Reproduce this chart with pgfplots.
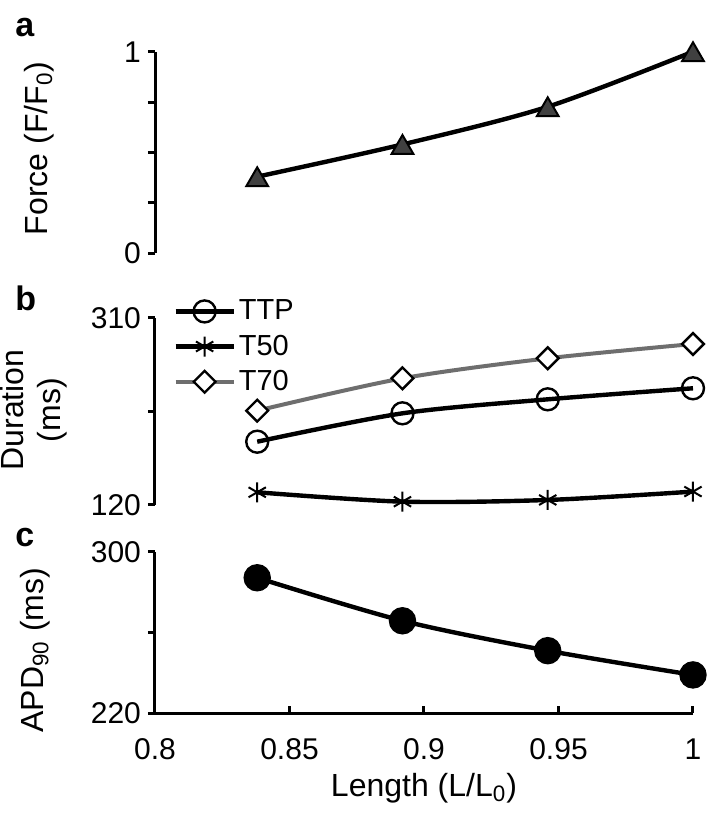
\documentclass[border=0pt]{standalone}
\usepackage{fontspec}
\setmainfont{Liberation Sans}
\usepackage{pgfplots}
\pgfplotsset{compat=1.18}
\definecolor{tri}{RGB}{64,64,64}
\definecolor{t70}{RGB}{110,110,110}
\begin{document}
\begin{tikzpicture}[font=\fontsize{16}{18.5}\selectfont]
\useasboundingbox (0,0) rectangle (353.5pt,407.5pt);
\pgfplotsset{
  base/.style={
    scale only axis, width=269pt, xmin=0.8, xmax=1,
    enlargelimits=false, clip=false,
    axis line style={line width=1.5pt, black},
    tick style={line width=1.5pt, black},
    major tick length=3.5pt,
    /pgf/number format/assume math mode=true,
    every y tick label/.append style={font=\fontsize{15}{17}\selectfont},
    every x tick label/.append style={font=\fontsize{15}{17}\selectfont},
    every axis label/.append style={font=\fontsize{16}{18.5}\selectfont},
  }
}
% panel a
\begin{axis}[base, at={(77.5pt,280.85pt)}, anchor=south west, height=100.8pt,
  ymin=0, ymax=1, axis x line=none, axis y line*=left, ytick align=outside,
  ytick={0,0.25,0.5,0.75,1}, yticklabels={0,,,,1},
  ylabel={Force (F/F\textsubscript{0})},
  ylabel style={at={(axis description cs:-0.2007,0.52)}, anchor=base}]
\addplot[line width=2.2pt, smooth, mark=triangle*, mark size=6.3pt,
  mark options={fill=tri, draw=black, line width=1pt, yshift=-1.6pt}]
  coordinates {(0.838,0.38)(0.892,0.54)(0.946,0.727)(1,1)};
\end{axis}
% panel b
\begin{axis}[base, at={(77.5pt,155pt)}, anchor=south west, height=93.65pt,
  ymin=120, ymax=310, axis x line=none, axis y line*=left, ytick align=outside,
  ytick={120,215,310}, yticklabels={120,,310},
  ylabel={Duration\\(ms)},
  ylabel style={at={(axis description cs:-0.225,0.507)}, anchor=center, align=center},
  legend style={at={(0.0335,1.113)}, anchor=north west, draw=none, fill=none,
    inner sep=0pt, row sep=3pt, font=\fontsize{14.5}{17}\selectfont,
    nodes={inner sep=1.5pt}},
  legend cell align=left,
  legend image code/.code={\draw[mark repeat=2,mark phase=2] plot coordinates {(0pt,0pt)(14.5pt,0pt)(29pt,0pt)};}]
\addplot[black, line width=2.2pt, smooth, mark=o, mark size=5.5pt,
  mark options={fill=white, draw=black, line width=1.2pt}]
  coordinates {(0.838,184.2)(0.892,213)(0.946,227.2)(1,238.4)};
\addlegendentry{TTP}
\addplot[black, line width=2.2pt, smooth, mark=asterisk, mark size=5pt,
  mark options={draw=black, line width=1pt}]
  coordinates {(0.838,132.9)(0.892,123.4)(0.946,125.1)(1,133.6)};
\addlegendentry{T50}
\addplot[t70, line width=2pt, smooth, mark=square*, mark size=3.85pt,
  mark options={fill=white, draw=black, line width=1.2pt, rotate=45}]
  coordinates {(0.838,215.7)(0.892,248.5)(0.946,268.8)(1,283.3)};
\addlegendentry{T70}
\end{axis}
% panel c
\begin{axis}[base, at={(77.5pt,50.85pt)}, anchor=south west, height=80.8pt,
  ymin=220, ymax=300, axis lines*=left, ytick align=outside, xtick align=inside,
  xtick={0.8,0.85,0.9,0.95,1}, xticklabels={0.8,0.85,0.9,0.95,1},
  ytick={220,260,300}, yticklabels={220,,300},
  xticklabel style={anchor=base, yshift=-23.3pt},
  ylabel={APD\textsubscript{90} (ms)},
  ylabel style={at={(axis description cs:-0.208,0.39)}, anchor=base},
  xlabel={Length (L/L\textsubscript{0})},
  xlabel style={at={(axis description cs:0.5,-0.512)}, anchor=base}]
\addplot[black, line width=2.2pt, smooth, mark=*, mark size=5.75pt,
  mark options={fill=black, draw=black}]
  coordinates {(0.838,287.1)(0.892,265.8)(0.946,251)(1,239)};
\end{axis}
\node[anchor=base west, font=\fontsize{17}{20}\selectfont\bfseries, inner sep=0pt] at (7.5pt,389pt) {a};
\node[anchor=base west, font=\fontsize{17}{20}\selectfont\bfseries, inner sep=0pt] at (7.5pt,252pt) {b};
\node[anchor=base west, font=\fontsize{17}{20}\selectfont\bfseries, inner sep=0pt] at (7.5pt,134pt) {c};
\end{tikzpicture}
\end{document}
